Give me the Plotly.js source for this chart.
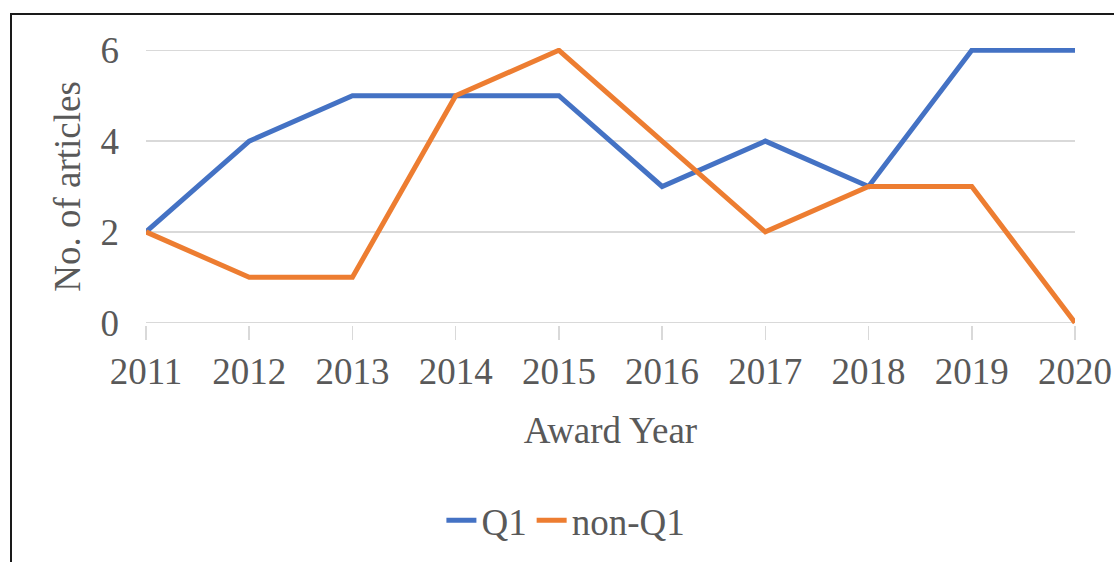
<!DOCTYPE html>
<html>
<head>
<meta charset="utf-8">
<script src="https://cdn.plot.ly/plotly-3.0.1.min.js"></script>
<style>
  html, body { margin: 0; padding: 0; background: #fff; overflow: hidden; }
  #wrap { position: relative; width: 1114px; height: 562px; }
  #chart { position: absolute; left: 0; top: 0; width: 1114px; height: 562px; }
  #frame { position: absolute; left: 10px; top: 13px; width: 1120px; height: 600px;
           border-top: 2px solid #1a1a1a; border-left: 2px solid #1a1a1a; pointer-events: none; }
</style>
</head>
<body>
<div id="wrap">
  <div id="chart"></div>
  <div id="frame"></div>
</div>
<script>
const years = ['2011','2012','2013','2014','2015','2016','2017','2018','2019','2020'];
const q1 = [2, 4, 5, 5, 5, 3, 4, 3, 6, 6];
const nonQ1 = [2, 1, 1, 5, 6, 4, 2, 3, 3, 0];
const yTicks = [0, 2, 4, 6];

const font = {family: '"Liberation Serif", "Times New Roman", serif', size: 37, color: '#595959'};

const traces = [
  {x: years, y: q1, name: 'Q1', type: 'scatter', mode: 'lines',
   line: {color: '#4472C4', width: 5}},
  {x: years, y: nonQ1, name: 'non-Q1', type: 'scatter', mode: 'lines',
   line: {color: '#ED7D31', width: 5}}
];

const layout = {
  width: 1114, height: 562,
  margin: {l: 146, r: 39, t: 47.7, b: 235.7, pad: 0},
  paper_bgcolor: '#fff', plot_bgcolor: '#fff',
  font: font,
  showlegend: true,
  legend: {orientation: 'h', x: 0.452, xanchor: 'center', y: -0.70, yanchor: 'middle',
           font: font, bgcolor: 'rgba(0,0,0,0)'},
  xaxis: {
    type: 'category', range: [0, 9], tickvals: years, ticktext: years,
    showgrid: false, zeroline: false, showline: false,
    ticks: 'outside', ticklen: 14, tickwidth: 1.5, tickcolor: '#d9d9d9',
    ticklabelstandoff: 0,
    tickfont: font,
    automargin: 'bottom',
    title: {text: 'Award Year', font: font, standoff: 25},
    fixedrange: true
  },
  yaxis: {
    range: [-0.05, 6.05], tickvals: yTicks, ticktext: yTicks.map(String),
    showgrid: true, gridcolor: '#d9d9d9', gridwidth: 1.5,
    zeroline: true, zerolinecolor: '#d9d9d9', zerolinewidth: 1.5,
    showline: false, ticks: '', ticklabelstandoff: 26,
    tickfont: font,
    automargin: 'left',
    title: {text: 'No. of articles', font: font, standoff: 8},
    fixedrange: true
  }
};

Plotly.newPlot('chart', traces, layout, {displayModeBar: false, staticPlot: true});
</script>
</body>
</html>
